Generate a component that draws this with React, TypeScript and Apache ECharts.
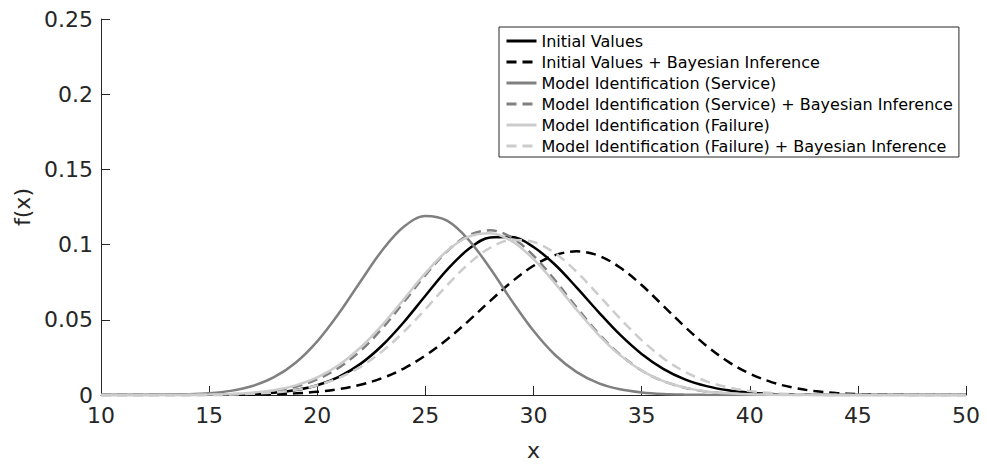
import React, { useEffect, useRef } from "react";
import * as echarts from "echarts";

const xValues = [10, 11, 12, 13, 14, 15, 16, 17, 18, 19, 20, 21, 22, 23, 24, 25, 26, 27, 28, 29, 30, 31, 32, 33, 34, 35, 36, 37, 38, 39, 40, 41, 42, 43, 44, 45, 46, 47, 48, 49, 50];

const initialValues = [0, 0, 0, 0, 0.00003, 0.0001, 0.00025, 0.00065, 0.0015, 0.0033, 0.0065, 0.0121, 0.0207, 0.0329, 0.0484, 0.066, 0.0832, 0.097, 0.1048, 0.105, 0.0984, 0.0866, 0.0714, 0.0553, 0.0401, 0.0273, 0.0174, 0.0104, 0.0059, 0.0031, 0.0015, 0.0007, 0.0003, 0.0001, 0, 0, 0, 0, 0, 0, 0];

const initialBayes = [0, 0, 0, 0.00001, 0.00002, 0.00005, 0.0001, 0.00025, 0.00054, 0.0011, 0.0021, 0.0039, 0.0068, 0.0112, 0.0176, 0.0262, 0.0369, 0.0493, 0.0626, 0.0753, 0.0859, 0.093, 0.0955, 0.0927, 0.0848, 0.0731, 0.0593, 0.0454, 0.0327, 0.0222, 0.0142, 0.0086, 0.0049, 0.0026, 0.0013, 0.0006, 0.0003, 0.0001, 0.00004, 0.00001, 0];

const serviceModel = [0, 0.00002, 0.00005, 0.00016, 0.00045, 0.00116, 0.00274, 0.00596, 0.01184, 0.0215, 0.0357, 0.0543, 0.0755, 0.0961, 0.1118, 0.119, 0.1159, 0.1032, 0.0841, 0.0626, 0.0427, 0.0266, 0.0152, 0.0079, 0.0038, 0.0017, 0.00066, 0.00024, 0.00008, 0.00002, 0, 0, 0, 0, 0, 0, 0, 0, 0, 0, 0];

const serviceBayes = [0, 0, 0.00001, 0.00003, 0.00007, 0.0002, 0.00052, 0.00124, 0.0027, 0.0055, 0.0104, 0.0182, 0.0294, 0.0442, 0.0617, 0.0797, 0.0955, 0.1062, 0.1095, 0.1046, 0.0927, 0.0762, 0.0581, 0.041, 0.0269, 0.0163, 0.0092, 0.0048, 0.0023, 0.001, 0.00044, 0.00017, 0.00006, 0.00002, 0, 0, 0, 0, 0, 0, 0];

const failureModel = [0, 0, 0.00001, 0.00004, 0.0001, 0.00027, 0.00066, 0.00152, 0.00323, 0.00637, 0.01169, 0.0199, 0.0316, 0.0465, 0.0636, 0.081, 0.0958, 0.1053, 0.1076, 0.1023, 0.0903, 0.0742, 0.0566, 0.0402, 0.0265, 0.0162, 0.0092, 0.0049, 0.0024, 0.0011, 0.00047, 0.00019, 0.00007, 0.00002, 0, 0, 0, 0, 0, 0, 0];

const failureBayes = [0, 0, 0.00001, 0.00002, 0.00006, 0.00015, 0.00036, 0.0008, 0.0017, 0.0034, 0.0065, 0.0114, 0.0187, 0.029, 0.042, 0.0571, 0.0729, 0.0872, 0.0979, 0.103, 0.1017, 0.0942, 0.0818, 0.0666, 0.0509, 0.0365, 0.0245, 0.0154, 0.0091, 0.0051, 0.0026, 0.0013, 0.0006, 0.00025, 0.0001, 0.00004, 0, 0, 0, 0, 0];

const seriesNames = [
  "Initial Values",
  "Initial Values + Bayesian Inference",
  "Model Identification (Service)",
  "Model Identification (Service) + Bayesian Inference",
  "Model Identification (Failure)",
  "Model Identification (Failure) + Bayesian Inference",
];

const FONT = "DejaVu Sans";
const AXIS_COLOR = "#262626";

export default function App() {
  const ref = useRef<HTMLDivElement>(null);

  useEffect(() => {
    if (!ref.current) return;
    const chart = echarts.init(ref.current, undefined, { renderer: "svg" });
    const allData = [initialValues, initialBayes, serviceModel, serviceBayes, failureModel, failureBayes];
    const colors = ["#000000", "#000000", "#808080", "#808080", "#cccccc", "#cccccc"];
    const dashed = [false, true, false, true, false, true];

    const series = allData.map((vals, i) => ({
      name: seriesNames[i],
      type: "line",
      data: xValues.map((x, j) => [x, vals[j]]),
      smooth: 0.35,
      symbol: "none",
      showSymbol: false,
      clip: true,
      color: colors[i],
      lineStyle: {
        color: colors[i],
        width: 2.5,
        type: dashed[i] ? [10, 6] : "solid",
      },
    }));

    chart.setOption({
      animation: false,
      backgroundColor: "#ffffff",
      grid: { left: 101, right: 21, top: 19, bottom: 70.5 },
      legend: {
        orient: "vertical",
        left: 499,
        top: 27,
        padding: [6, 6, 3, 6],
        itemWidth: 30,
        itemHeight: 14,
        itemGap: 5,
        borderColor: AXIS_COLOR,
        borderWidth: 1,
        backgroundColor: "#ffffff",
        itemStyle: { opacity: 0 },
        lineStyle: { width: 3 },
        textStyle: { fontFamily: FONT, fontSize: 16, color: "#000000" },
        data: seriesNames,
      },
      xAxis: {
        type: "value",
        min: 10,
        max: 50,
        interval: 5,
        name: "x",
        nameLocation: "middle",
        nameGap: 44,
        nameTextStyle: { fontFamily: FONT, fontSize: 22, color: AXIS_COLOR },
        axisLine: { show: true, lineStyle: { color: AXIS_COLOR, width: 1 } },
        axisTick: { show: true, inside: true, length: 9, lineStyle: { color: AXIS_COLOR } },
        axisLabel: { fontFamily: FONT, fontSize: 22, color: AXIS_COLOR, margin: 9 },
        splitLine: { show: false },
      },
      yAxis: {
        type: "value",
        min: 0,
        max: 0.25,
        interval: 0.05,
        name: "f(x)",
        nameLocation: "middle",
        nameGap: 62,
        nameTextStyle: { fontFamily: FONT, fontSize: 22, color: AXIS_COLOR },
        axisLine: { show: true, lineStyle: { color: AXIS_COLOR, width: 1 } },
        axisTick: { show: true, inside: true, length: 9, lineStyle: { color: AXIS_COLOR } },
        axisLabel: { fontFamily: FONT, fontSize: 22, color: AXIS_COLOR, margin: 8 },
        splitLine: { show: false },
      },
      series,
    });

    return () => {
      chart.dispose();
    };
  }, []);

  return <div ref={ref} style={{ width: 987, height: 466, position: "absolute", left: 0, top: 0 }} />;
}
